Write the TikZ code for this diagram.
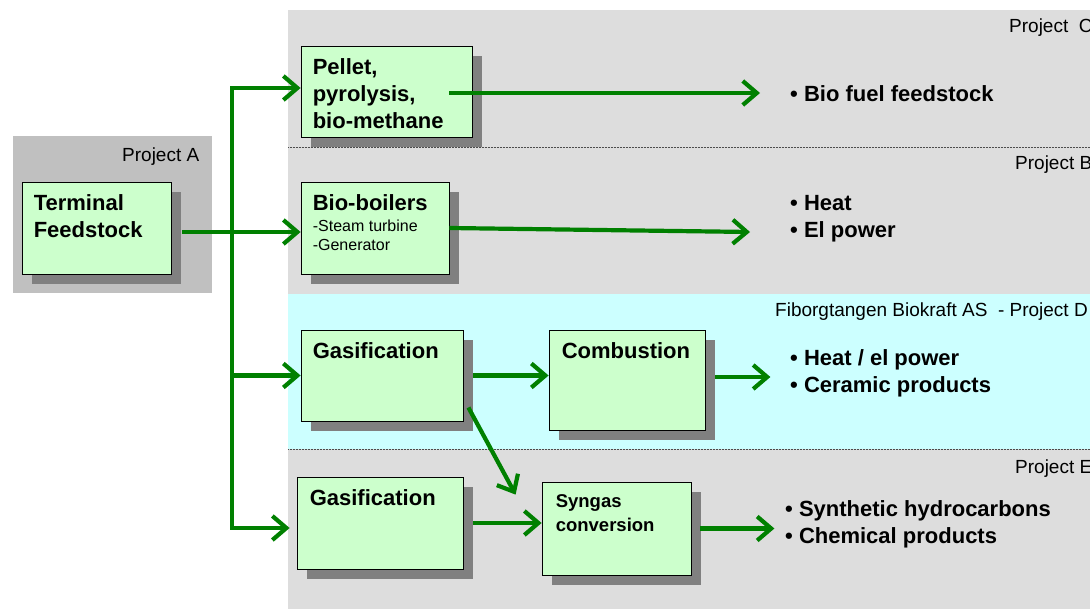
\documentclass[tikz,border=0pt]{standalone}
\usepackage{fontspec}
\setmainfont{Liberation Sans}
\usepackage{xcolor}
\usepackage{tikz}
\usetikzlibrary{shadows, arrows.meta, positioning}
\definecolor{bandgray}{HTML}{DDDDDD}
\definecolor{agray}{HTML}{C0C0C0}
\definecolor{bandcyan}{HTML}{CCFFFF}
\definecolor{boxgreen}{HTML}{CCFFCC}
\definecolor{shadowgray}{HTML}{808080}
\definecolor{flowgreen}{HTML}{008000}
\tikzstyle{procbox}=[draw=black, line width=0.8pt, fill=boxgreen, inner sep=0pt,
drop shadow={shadow xshift=10pt, shadow yshift=-10pt, fill=shadowgray, opacity=1}]
\tikzstyle{boxtext}=[anchor=north west, inner sep=0pt, xshift=12pt, yshift=-13pt, align=left,
font=\fontsize{22}{27}\selectfont\bfseries]
\tikzstyle{outtext}=[anchor=north west, inner sep=0pt, align=left,
font=\fontsize{22}{27}\selectfont\bfseries]
\tikzstyle{projlabel}=[anchor=base west, inner sep=0pt, font=\fontsize{19}{22}\selectfont]
\tikzstyle{flow}=[draw=flowgreen, line width=4.2pt, -{Straight Barb[length=14pt,width=24pt]}]
\tikzstyle{divider}=[draw=gray!60!black, line width=0.5pt, densely dotted]

\begin{document}
\begin{tikzpicture}[x=1pt, y=-1pt]
\useasboundingbox (0,0) rectangle (1090,609);
\clip (0,0) rectangle (1090,609);
\fill[bandgray] (288,10) rectangle (1100,294);
\fill[bandcyan] (288,294) rectangle (1100,449);
\fill[bandgray] (288,449) rectangle (1100,620);
\fill[agray] (13,136) rectangle (212,293);
\draw[divider] (288,147) -- (1100,147);
\draw[divider] (288,449) -- (1100,449);

\node[projlabel] (projc) at (1009,33) {Project\ \ C};
\node[projlabel] (projb) at (1015,170) {Project B};
\node[projlabel] (projd) at (775,317) {Fiborgtangen Biokraft AS\ \ - Project D};
\node[projlabel] (proje) at (1015,474) {Project E};
\node[projlabel] (proja) at (122,162) {Project A};

\node[procbox, minimum width=149, minimum height=92] (term) at (96.5,228) {};
\node[procbox, minimum width=171, minimum height=91] (pellet) at (386.5,91.5) {};
\node[procbox, minimum width=148, minimum height=92] (boil) at (375,228) {};
\node[procbox, minimum width=162, minimum height=91] (gasd) at (382,375.5) {};
\node[procbox, minimum width=156, minimum height=100] (comb) at (627,380) {};
\node[procbox, minimum width=166, minimum height=92] (gase) at (380,523) {};
\node[procbox, minimum width=149, minimum height=93] (syn) at (616.5,528.5) {};

\node[boxtext] (termtxt) at (term.north west) {Terminal\\Feedstock};
\node[boxtext] (pellettxt) at (pellet.north west) {Pellet,\\pyrolysis,\\bio-methane};
\node[boxtext] (boiltxt) at (boil.north west) {Bio-boilers\\[-6pt]
  {\fontsize{16}{19}\selectfont\mdseries -Steam turbine}\\[-8pt]
  {\fontsize{16}{19}\selectfont\mdseries -Generator}};
\node[boxtext] (gasdtxt) at (gasd.north west) {Gasification};
\node[boxtext, xshift=1pt] (combtxt) at (comb.north west) {Combustion};
\node[boxtext, xshift=1pt] (gasetxt) at (gase.north west) {Gasification};
\node[boxtext, xshift=2pt, font=\fontsize{18.5}{24}\selectfont\bfseries] (syntxt) at (syn.north west) {Syngas\\conversion};

\node[outtext] (fuel) at (790,85) {• Bio fuel feedstock};
\node[outtext] (heat) at (790,195) {• Heat\\• El power};
\node[outtext] (ceram) at (790,349) {• Heat / el power\\• Ceramic products};
\node[outtext] (chem) at (785,500) {• Synthetic hydrocarbons\\• Chemical products};

\coordinate (ttop) at (232,88);
\coordinate (tbot) at (232,528);
\coordinate (fork) at (232,232);
\coordinate (heatin) at (750,232);

\draw[flow] ([xshift=11pt]term.east |- fork) -- (boil.west |- fork);
\draw[flow] (tbot) -- (ttop) -- (pellet.west |- ttop);
\draw[flow] (ttop) -- (tbot) -- ([xshift=-7pt]gase.west |- tbot);
\draw[flow] (ttop |- gasd.west) -- (gasd.west);
\draw[flow] ([xshift=-23pt,yshift=-1.5pt]pellet.east) -- ([xshift=-30pt,yshift=-1.5pt]fuel.west |- pellet.east);
\draw[flow] (boil.east) -- (heatin);
\draw[flow] ([xshift=10pt]gasd.east) -- (comb.west |- gasd.east);
\draw[flow] ([xshift=5pt,yshift=-32pt]gasd.east) -- ([xshift=-26pt,yshift=-13pt]syn.north west);
\draw[flow] ([xshift=10pt]gase.east) -- (syn.west |- gase.east);
\draw[flow] ([xshift=10pt,yshift=3pt]comb.east) -- ([xshift=65pt,yshift=3pt]comb.east);
\draw[flow] ([xshift=9pt]syn.east) -- ([xshift=83pt]syn.east);
\end{tikzpicture}
\end{document}
